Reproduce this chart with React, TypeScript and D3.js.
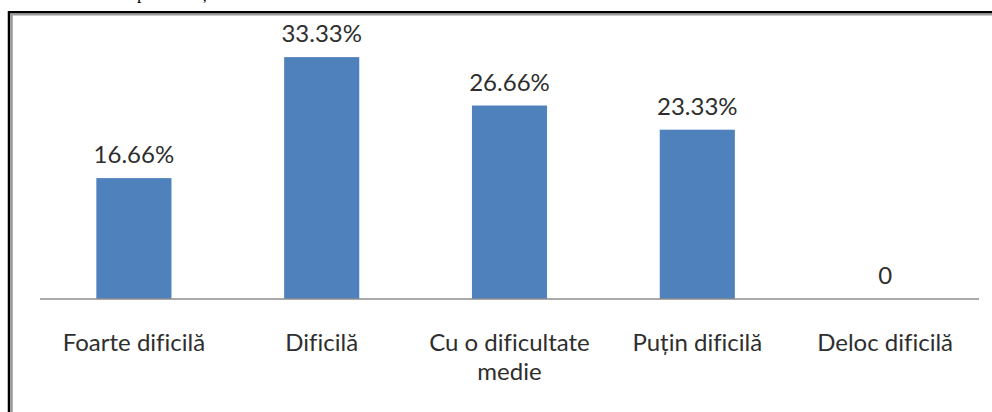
import React from "react";
import * as d3 from "d3";

const categories: string[][] = [
  ["Foarte dificilă"],
  ["Dificilă"],
  ["Cu o dificultate", "medie"],
  ["Puțin dificilă"],
  ["Deloc dificilă"],
];
const values: number[] = [16.66, 33.33, 26.66, 23.33, 0];
const valueLabels: string[] = ["16.66%", "33.33%", "26.66%", "23.33%", "0"];

const W = 992;
const H = 412;

export default function App() {
  const x = d3
    .scaleBand<number>()
    .domain(values.map((_, i) => i))
    .range([40, 979])
    .paddingInner(0.6)
    .paddingOuter(0.3);
  const y = d3.scaleLinear().domain([0, 35]).range([299, 45]);
  const font = "Lato, 'Open Sans', sans-serif";
  const textColor = "#2e2e2e";
  const textStyle = { fontVariantLigatures: "none" as const };

  return (
    <svg
      width={W}
      height={H}
      style={{ position: "absolute", left: 0, top: 0, background: "#fff" }}
    >
      {/* cut-off text fragments at the top */}
      <text x={137} y={-1} fontFamily="'Liberation Serif', serif" fontSize={18} fill="#000">p</text>
      <text x={202} y={-1} fontFamily="'Liberation Serif', serif" fontSize={18} fill="#000">ț</text>

      {/* frame */}
      <line x1={9} x2={9} y1={11} y2={H} stroke="#000" strokeWidth={2.5} />
      <line x1={8} x2={W} y1={12.2} y2={12.2} stroke="#000" strokeWidth={2.5} />
      <line x1={11.5} x2={11.5} y1={13.5} y2={H} stroke="#9a9a9a" strokeWidth={2.5} />
      <line x1={10.5} x2={W} y1={14.5} y2={14.5} stroke="#9a9a9a" strokeWidth={2} />

      {/* bars */}
      {values.map((v, i) => (
        <rect
          key={i}
          x={x(i)!}
          y={y(v)}
          width={x.bandwidth()}
          height={y(0) - y(v)}
          fill="#4F81BD"
        />
      ))}

      {/* axis line */}
      <line x1={40} x2={979} y1={y(0)} y2={y(0)} stroke="#8c8c8c" strokeWidth={1.5} />

      {/* value labels */}
      {values.map((v, i) => (
        <text
          key={i}
          x={x(i)! + x.bandwidth() / 2}
          y={y(v) - 15}
          textAnchor="middle"
          fontFamily={font}
          fontSize={24}
          fill={textColor}
          style={textStyle}
        >
          {valueLabels[i]}
        </text>
      ))}

      {/* category labels */}
      {categories.map((lines, i) => (
        <text
          key={i}
          x={x(i)! + x.bandwidth() / 2}
          y={351}
          textAnchor="middle"
          fontFamily={font}
          fontSize={24}
          fill={textColor}
          style={textStyle}
        >
          {lines.map((l, j) => (
            <tspan key={j} x={x(i)! + x.bandwidth() / 2} dy={j === 0 ? 0 : 29}>
              {l}
            </tspan>
          ))}
        </text>
      ))}
    </svg>
  );
}
